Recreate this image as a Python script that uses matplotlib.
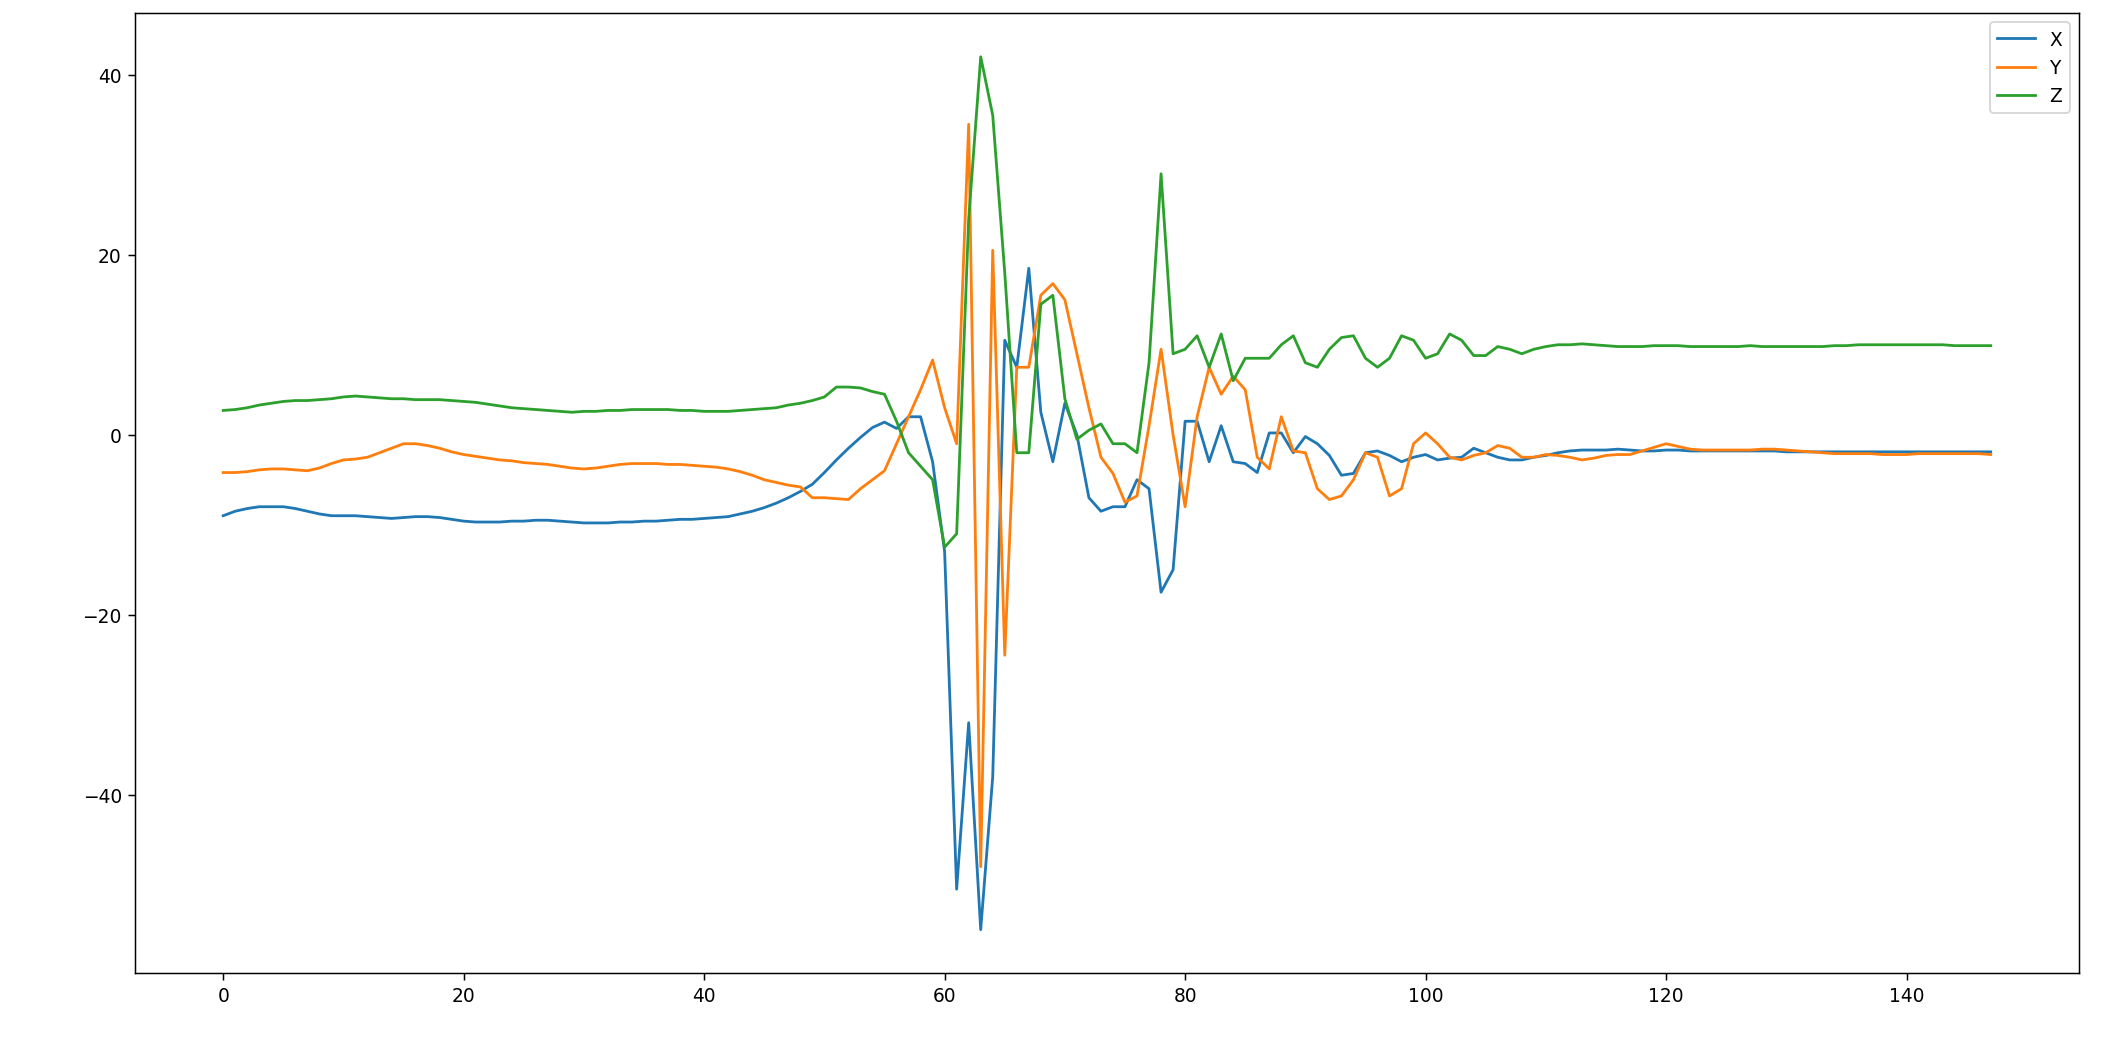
import numpy as np
import matplotlib
matplotlib.use("Agg")
import matplotlib.pyplot as plt

x_vals = [-9,-8.5,-8.2,-8,-8,-8,-8.2,-8.5,-8.8,-9,-9,-9,-9.1,-9.2,-9.3,-9.2,-9.1,-9.1,-9.2,-9.4,
          -9.6,-9.7,-9.7,-9.7,-9.6,-9.6,-9.5,-9.5,-9.6,-9.7,-9.8,-9.8,-9.8,-9.7,-9.7,-9.6,-9.6,-9.5,-9.4,-9.4,
          -9.3,-9.2,-9.1,-8.8,-8.5,-8.1,-7.6,-7,-6.3,-5.5,-4.2,-2.8,-1.5,-0.3,0.8,1.4,0.7,2,2,-3,
          -13,-50.5,-32,-55,-38,10.5,7.5,18.5,2.5,-3,3.5,0,-7,-8.5,-8,-8,-5,-6,-17.5,-15,
          1.5,1.5,-3,1,-3,-3.2,-4.2,0.2,0.2,-2,-0.2,-1,-2.3,-4.5,-4.3,-2,-1.8,-2.3,-3,-2.5,
          -2.2,-2.8,-2.6,-2.5,-1.5,-2,-2.5,-2.8,-2.8,-2.5,-2.3,-2,-1.8,-1.7,-1.7,-1.7,-1.6,-1.7,-1.8,-1.8,
          -1.7,-1.7,-1.8,-1.8,-1.8,-1.8,-1.8,-1.8,-1.8,-1.8,-1.9,-1.9,-1.9,-1.9,-1.9,-1.9,-1.9,-1.9,-1.9,-1.9,
          -1.9,-1.9,-1.9,-1.9,-1.9,-1.9,-1.9,-1.9]
y_vals = [-4.2,-4.2,-4.1,-3.9,-3.8,-3.8,-3.9,-4,-3.7,-3.2,-2.8,-2.7,-2.5,-2,-1.5,-1,-1,-1.2,-1.5,-1.9,
          -2.2,-2.4,-2.6,-2.8,-2.9,-3.1,-3.2,-3.3,-3.5,-3.7,-3.8,-3.7,-3.5,-3.3,-3.2,-3.2,-3.2,-3.3,-3.3,-3.4,
          -3.5,-3.6,-3.8,-4.1,-4.5,-5,-5.3,-5.6,-5.8,-7,-7,-7.1,-7.2,-6,-5,-4,-1,2,5,8.3,
          3,-1,34.5,-48,20.5,-24.5,7.5,7.5,15.5,16.8,15,9,3,-2.5,-4.3,-7.5,-6.8,1,9.5,0,
          -8,2,7.5,4.5,6.5,5,-2.5,-3.8,2,-1.8,-2,-6,-7.2,-6.8,-5,-2,-2.5,-6.8,-6,-1,
          0.2,-1,-2.5,-2.8,-2.3,-2,-1.2,-1.5,-2.5,-2.5,-2.2,-2.3,-2.5,-2.8,-2.6,-2.3,-2.2,-2.2,-1.8,-1.4,
          -1,-1.3,-1.6,-1.7,-1.7,-1.7,-1.7,-1.7,-1.6,-1.6,-1.7,-1.8,-1.9,-2,-2.1,-2.1,-2.1,-2.1,-2.2,-2.2,
          -2.2,-2.1,-2.1,-2.1,-2.1,-2.1,-2.1,-2.2]
z_vals = [2.7,2.8,3,3.3,3.5,3.7,3.8,3.8,3.9,4,4.2,4.3,4.2,4.1,4,4,3.9,3.9,3.9,3.8,
          3.7,3.6,3.4,3.2,3,2.9,2.8,2.7,2.6,2.5,2.6,2.6,2.7,2.7,2.8,2.8,2.8,2.8,2.7,2.7,
          2.6,2.6,2.6,2.7,2.8,2.9,3,3.3,3.5,3.8,4.2,5.3,5.3,5.2,4.8,4.5,1.5,-2,-3.5,-5,
          -12.5,-11,24,42,35.5,18,-2,-2,14.5,15.5,4,-0.5,0.5,1.2,-1,-1,-2,8,29,9,
          9.5,11,7.5,11.2,6,8.5,8.5,8.5,10,11,8,7.5,9.5,10.8,11,8.5,7.5,8.5,11,10.5,
          8.5,9,11.2,10.5,8.8,8.8,9.8,9.5,9,9.5,9.8,10,10,10.1,10,9.9,9.8,9.8,9.8,9.9,
          9.9,9.9,9.8,9.8,9.8,9.8,9.8,9.9,9.8,9.8,9.8,9.8,9.8,9.8,9.9,9.9,10,10,10,10,
          10,10,10,10,9.9,9.9,9.9,9.9]

fig = plt.figure(figsize=(15.72, 7.9), dpi=134)
ax = fig.add_axes([0.064, 0.08, 0.923, 0.907])
idx = np.arange(len(x_vals))
ax.plot(idx, x_vals, label="X")
ax.plot(idx, y_vals, label="Y")
ax.plot(idx, z_vals, label="Z")
ax.legend(loc="upper right")
fig.savefig("out.png", dpi=134)
